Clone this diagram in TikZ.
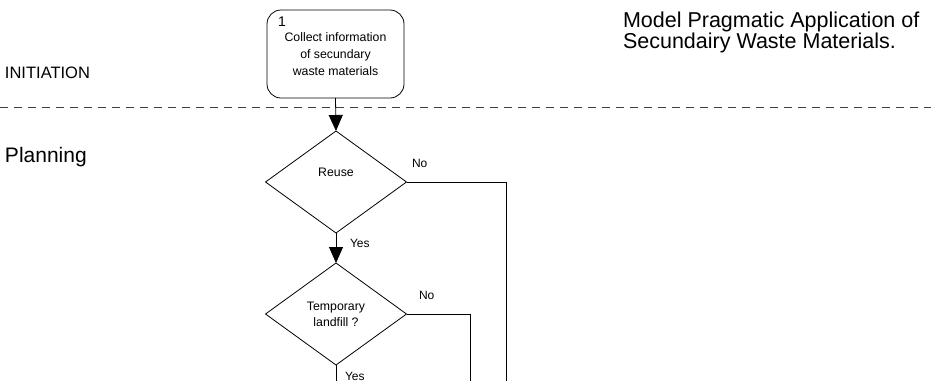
\documentclass[tikz,border=0pt]{standalone}
\usepackage{fontspec}
\setmainfont{Liberation Sans}
\usetikzlibrary{shapes.geometric,arrows.meta}
\begin{document}
\begin{tikzpicture}[x=1pt,y=-1pt,
  every node/.style={inner sep=0pt, outer sep=0pt},
  decision/.style={diamond, draw, line width=0.8pt, minimum width=141pt, minimum height=102pt, font=\fontsize{12.3}{16}\selectfont, align=center},
  process/.style={draw, rounded corners=14pt, line width=0.8pt, minimum width=137pt, minimum height=88pt, font=\fontsize{12.3}{17}\selectfont, align=center},
  flow/.style={line width=0.8pt},
  arr/.style={flow, -{Triangle[width=14pt,length=16pt]}},
  lbl/.style={font=\fontsize{12}{14}\selectfont, anchor=base west},
  lane/.style={anchor=base west},
]
\useasboundingbox (0,0) rectangle (931,381);
% lane separator
\draw[dash pattern=on 8pt off 6pt, line width=0.7pt, black!75] (0,107) -- (931,107);
% lane titles
\node[lane, font=\fontsize{16.5}{18}\selectfont] (init) at (5,78) {INITIATION};
\node[lane, font=\fontsize{21}{24}\selectfont] (plan) at (5,162) {Planning};
% diagram title
\node[anchor=north west, font=\fontsize{21.5}{20}\selectfont, align=left] (title) at (623,12) {Model Pragmatic Application of\\Secundairy Waste Materials.};
% nodes
\node[process] (collect) at (335.5,54) {Collect information\\of secundary\\waste materials};
\node[lane, font=\fontsize{14}{16}\selectfont] (num) at (278,26) {1};
\node[decision] (reuse) at (336,182) {Reuse\\[4pt]};
\node[decision] (temp) at (336,314) {Temporary\\landfill ?};
% free ends
\coordinate (e1) at (506,381);
\coordinate (e2) at (470,381);
\coordinate (e3) at (336,381);
% connectors
\draw[arr] (collect.south) -- (reuse.north);
\draw[arr] (reuse.south) -- (temp.north);
\draw[flow] (reuse.east) -- (e1 |- reuse.east) -- (e1);
\draw[flow] (temp.east) -- (e2 |- temp.east) -- (e2);
\draw[flow] (temp.south) -- (e3);
% labels
\node[lbl] (no1) at (412,167) {No};
\node[lbl] (yes1) at (350,247) {Yes};
\node[lbl] (no2) at (419,299) {No};
\node[lbl] (yes2) at (345,380) {Yes};
\end{tikzpicture}
\end{document}
